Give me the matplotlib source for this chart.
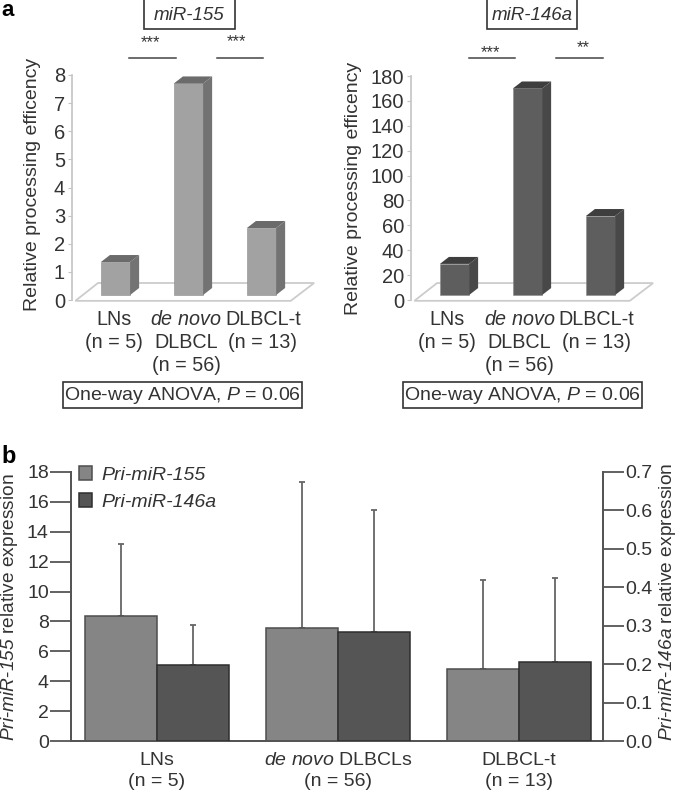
import matplotlib
matplotlib.use('Agg')
import matplotlib.pyplot as plt
from matplotlib.patches import Polygon, Rectangle

plt.rcParams['font.family'] = ['Liberation Sans', 'DejaVu Sans']
plt.rcParams['mathtext.fontset'] = 'custom'
plt.rcParams['mathtext.rm'] = 'Liberation Sans'
plt.rcParams['mathtext.it'] = 'Liberation Sans:italic'
# digits stay upright in \mathit, so sf is used for the gene names
plt.rcParams['mathtext.sf'] = 'Liberation Sans:italic'

W, H = 680, 792
TXT = '#333333'

# panel a
vals_155 = [1.35, 7.7, 2.56]
vals_146 = [29, 170, 67.5]
labels_a = ['LNs\n(n = 5)', r'$\mathit{de\ novo}$' + '\nDLBCL\n(n = 56)', 'DLBCL-t\n(n = 13)']
ticks_155 = [0, 1, 2, 3, 4, 5, 6, 7, 8]
ticks_146 = [0, 20, 40, 60, 80, 100, 120, 140, 160, 180]

# panel b
groups = ['LNs\n(n = 5)', r'$\mathit{de\ novo}$ DLBCLs' + '\n(n = 56)', 'DLBCL-t\n(n = 13)']
pri_155 = [8.37, 7.54, 4.8]
pri_155_top = [13.18, 17.36, 10.78]
pri_146 = [0.199, 0.283, 0.206]
pri_146_top = [0.303, 0.60, 0.423]

fig = plt.figure(figsize=(W / 100, H / 100), dpi=100)


def axes_px(x0, y0, x1, y1):
    return fig.add_axes([x0 / W, 1 - y1 / H, (x1 - x0) / W, (y1 - y0) / H])


def txt(x, y, s, **kw):
    kw.setdefault('ha', 'center')
    kw.setdefault('va', 'center')
    kw.setdefault('color', TXT)
    return fig.text(x / W, 1 - y / H, s, **kw)


def box(x0, y0, x1, y1):
    fig.add_artist(Rectangle((x0 / W, 1 - y1 / H), (x1 - x0) / W, (y1 - y0) / H,
                             transform=fig.transFigure, fc='white', ec='#333333', lw=1.2))


def bars3d(ax, vals, ymax, label_x, ylabels, front, side, top):
    px = 225 / ymax  # pixels per unit, only for the fake depth
    base = 5 / px
    dy = 7 / px
    dx = 9 / 73
    w = 0.4
    # floor
    ax.add_patch(Polygon([(-0.55, -0.03 * ymax / 8), (-0.24, 17 / px), (2.72, 17 / px), (2.4, -0.03 * ymax / 8)],
                         closed=True, fc='white', ec='#cccccc', lw=1.3, clip_on=False, zorder=1))
    for i, v in enumerate(vals):
        l, r = i - w / 2, i + w / 2
        ax.bar(i, v - base, w, bottom=base, color=front, ec='#8a8a8a', lw=0.4, zorder=3)
        ax.add_patch(Polygon([(r, base), (r + dx, base + dy), (r + dx, v + dy), (r, v)], fc=side, ec='none', zorder=3))
        ax.add_patch(Polygon([(l, v), (l + dx, v + dy), (r + dx, v + dy), (r, v)], fc=top, ec='none', zorder=3))
    ax.set_ylim(0, ymax)
    ax.set_xlim(-0.596, 2.705)
    ax.patch.set_visible(False)
    for s in ['top', 'right', 'bottom']:
        ax.spines[s].set_visible(False)
    ax.spines['left'].set_color('#c4c4c4')
    ax.spines['left'].set_linewidth(1.2)
    ax.set_yticks(ylabels)
    ax.tick_params(axis='y', length=3, color='#c4c4c4', labelsize=14.5, labelcolor=TXT, pad=2)
    ax.set_xticks(label_x)
    ax.set_xticklabels(labels_a, fontsize=14.2, color=TXT, linespacing=1.28)
    ax.tick_params(axis='x', length=0, pad=7)


ax1 = axes_px(72, 75, 313, 300)
bars3d(ax1, vals_155, 8, [-0.02, 0.966, 2.02], ticks_155, '#a2a2a2', '#737373', '#6b6b6b')
ax2 = axes_px(411, 76, 652, 300)
bars3d(ax2, vals_146, 180, [-0.1, 0.89, 1.945], ticks_146, '#5e5e5e', '#484848', '#3e3e3e')

txt(33, 184, 'Relative processing efficency', rotation=90, fontsize=14)
txt(353, 188, 'Relative processing efficency', rotation=90, fontsize=14)

box(144, -2, 235, 29)
txt(189, 15, 'miR-155', style='italic', fontsize=13.5)
box(487, -2, 577, 29)
txt(532, 15, 'miR-146a', style='italic', fontsize=13.5)

for x, y, s in [(150, 43, '***'), (236, 42, '***'), (490, 53, '***'), (583, 48, '**')]:
    txt(x, y, s, fontsize=12)
for x0, x1 in [(129, 176), (217, 263), (469, 515), (556, 603)]:
    fig.add_artist(plt.Line2D([x0 / W, x1 / W], [1 - 58 / H] * 2, color='#444444', lw=1.1))

box(63, 382, 302, 408)
txt(182, 395, r'One-way ANOVA, $\mathit{P}$ = 0.06', fontsize=14)
box(403, 382, 642, 408)
txt(522, 395, r'One-way ANOVA, $\mathit{P}$ = 0.06', fontsize=14)

txt(1, 16, 'a', ha='left', va='baseline', fontweight='bold', fontsize=16, color='black')
txt(1, 463, 'b', ha='left', va='baseline', fontweight='bold', fontsize=17, color='black')

# panel b
AX = '#555555'
ax3 = axes_px(71, 472, 603, 741)
ax4 = ax3.twinx()
x = [0, 1, 2]
w = 0.4
c155, c146 = '#858585', '#555555'
for i in x:
    ax3.errorbar(i - w / 2, pri_155[i], yerr=[[0], [pri_155_top[i] - pri_155[i]]], color='#666666',
                 lw=1.3, capsize=2, capthick=1.3, zorder=2)
    ax4.errorbar(i + w / 2, pri_146[i], yerr=[[0], [pri_146_top[i] - pri_146[i]]], color='#666666',
                 lw=1.3, capsize=2, capthick=1.3, zorder=2)
b1 = ax3.bar([i - w / 2 for i in x], pri_155, w, color=c155, ec='#4d4d4d', lw=1.1, zorder=3)
b2 = ax4.bar([i + w / 2 for i in x], pri_146, w, color=c146, ec='#2e2e2e', lw=1.1, zorder=3)
ax3.set_xlim(-0.475, 2.464)
ax3.set_ylim(0, 18)
ax4.set_ylim(0, 0.7)
ax3.set_yticks(range(0, 19, 2))
ax4.set_yticks([0.0, 0.1, 0.2, 0.3, 0.4, 0.5, 0.6, 0.7])
ax3.set_xticks(x)
ax3.set_xticklabels(groups, fontsize=14, color=TXT, linespacing=1.3)
ax3.tick_params(axis='x', length=0, pad=8)
ax3.tick_params(axis='y', length=15, width=1.3, color=AX, labelsize=14, labelcolor=TXT, pad=1)
ax4.tick_params(axis='y', length=15, width=1.3, color=AX, labelsize=14, labelcolor=TXT, pad=1)
for a in [ax3, ax4]:
    a.spines['top'].set_visible(False)
    for s in ['left', 'right', 'bottom']:
        a.spines[s].set_color(AX)
        a.spines[s].set_linewidth(1.4)

txt(10, 607, r'$\mathsf{Pri\text{-}miR\text{-}155}$ relative expression', rotation=90, fontsize=13.8)
txt(668, 602, r'$\mathsf{Pri\text{-}miR\text{-}146a}$ relative expression', rotation=90, fontsize=13.8)

leg = ax3.legend([b1, b2], ['Pri-miR-155', 'Pri-miR-146a'], loc='upper left', frameon=False,
                 bbox_to_anchor=(8 / 532, 1 + 6 / 269), fontsize=14, labelcolor=TXT, handlelength=0.68,
                 handleheight=0.72, handletextpad=0.45, labelspacing=0.5, borderpad=0, borderaxespad=0)
for t in leg.get_texts():
    t.set_style('italic')

fig.savefig('out.png', dpi=100)
